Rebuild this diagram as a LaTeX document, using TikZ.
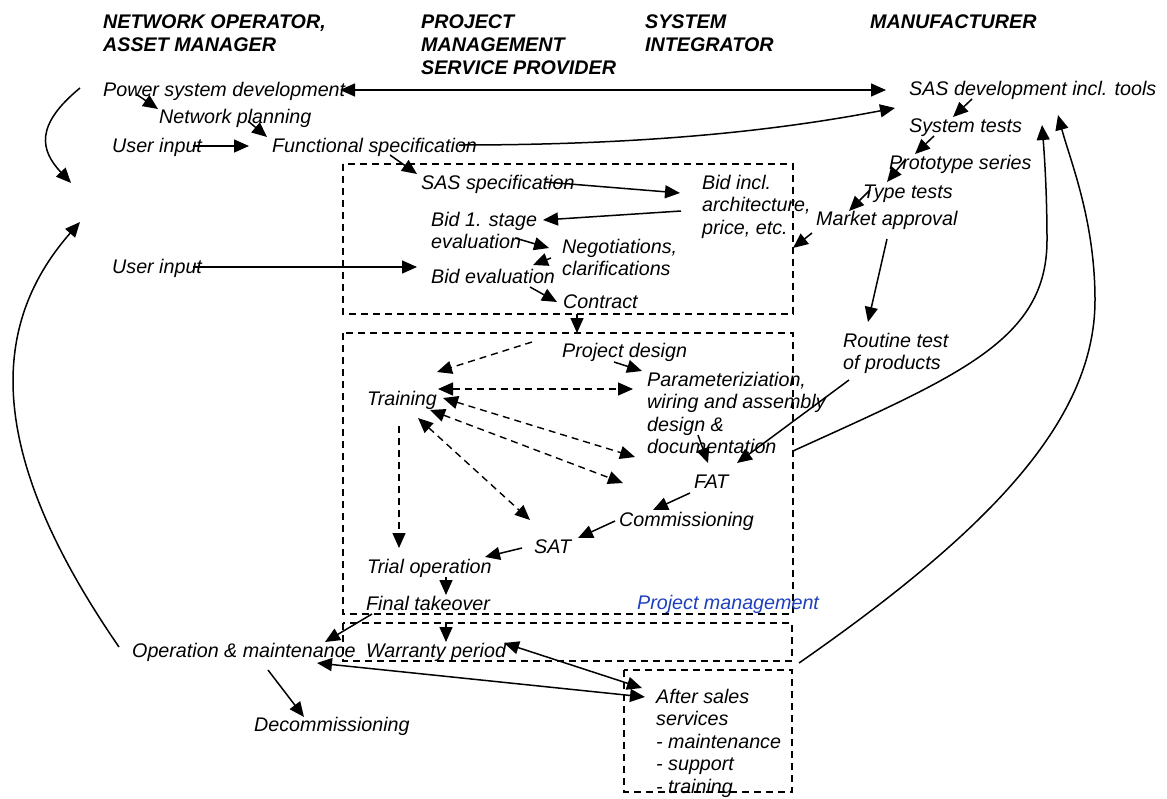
\documentclass[tikz,border=0pt]{standalone}
\usepackage{fontspec}
\setmainfont{Liberation Sans}
\usetikzlibrary{arrows.meta}
\definecolor{pmblue}{RGB}{30,64,190}
\newcommand\mlines[1]{\begin{tabular}[t]{@{}l@{}}#1\end{tabular}}

\begin{document}
\begin{tikzpicture}[x=1pt,y=-1pt,
  txt/.style={anchor=base west, inner sep=0pt, font=\fontsize{19.7}{22.5}\selectfont\itshape},
  hdr/.style={anchor=base west, inner sep=0pt, font=\fontsize{19.7}{23}\selectfont\bfseries\itshape},
  tip/.tip={Triangle[length=15pt,width=13pt]},
  arr/.style={line width=1.5pt, -tip},
  darr/.style={line width=1.5pt, tip-tip},
  dsh/.style={line width=1.4pt, dash pattern=on 7pt off 5pt},
  darrd/.style={line width=1.4pt, dash pattern=on 7pt off 5pt, -tip},
  ddarrd/.style={line width=1.4pt, dash pattern=on 7pt off 5pt, tip-tip},
]
\useasboundingbox (0,0) rectangle (1167,798);

% column headings
\node[hdr] (hNO)  at (103,28) {\mlines{NETWORK OPERATOR,\\ASSET MANAGER}};
\node[hdr] (hPM)  at (421,28) {\mlines{PROJECT\\MANAGEMENT\\SERVICE PROVIDER}};
\node[hdr] (hSI)  at (645,28) {\mlines{SYSTEM\\INTEGRATOR}};
\node[hdr] (hMF)  at (870,28) {MANUFACTURER};

% dashed phase boxes
\draw[dsh] (343,164) rectangle (793,314);
\draw[dsh] (343,333) rectangle (793,614);
\draw[dsh] (343,623) rectangle (792,661);
\draw[dsh] (624,670) rectangle (792,792);

% activities
\node[txt] (psd)   at (103,96)  {Power system development};
\node[txt] (np)    at (159,123) {Network planning};
\node[txt] (ui1)   at (112,152) {User input};
\node[txt] (fs)    at (272,152) {Functional specification};
\node[txt] (sass)  at (421,189) {SAS specification};
\node[txt] (bid1)  at (431,226) {\mlines{Bid 1. stage\\evaluation}};
\node[txt] (ui2)   at (112,273) {User input};
\node[txt] (bide)  at (431,283) {Bid evaluation};
\node[txt] (neg)   at (562,253) {\mlines{Negotiations,\\clarifications}};
\node[txt] (ctr)   at (563,308) {Contract};
\node[txt] (bidi)  at (702,189) {\mlines{Bid incl.\\architecture,\\price, etc.}};
\node[txt] (sasd)  at (909,95)  {SAS development incl. tools};
\node[txt] (syst)  at (909,132) {System tests};
\node[txt] (proto) at (889,169) {Prototype series};
\node[txt] (typ)   at (863,198) {Type tests};
\node[txt] (mkt)   at (816,225) {Market approval};
\node[txt] (rout)  at (843,347) {\mlines{Routine test\\of products}};
\node[txt] (pdes)  at (562,357) {Project design};
\node[txt] (par)   at (647,386) {\mlines{Parameteriziation,\\wiring and assembly\\design \&\\documentation}};
\node[txt] (trn)   at (367,405) {Training};
\node[txt] (fat)   at (694,488) {FAT};
\node[txt] (com)   at (619,526) {Commissioning};
\node[txt] (sat)   at (534,553) {SAT};
\node[txt] (trial) at (367,573) {Trial operation};
\node[txt] (fin)   at (366,610) {Final takeover};
\node[txt,text=pmblue] (pm) at (637,609) {Project management};
\node[txt] (war)   at (366,657) {Warranty period};
\node[txt] (om)    at (132,657) {Operation \& maintenance};
\node[txt] (dec)   at (254,731) {Decommissioning};
\node[txt] (aft)   at (656,703) {\mlines{After sales\\services\\- maintenance\\- support\\- training}};

% connector end points
\coordinate (psdR) at (340,90);   \coordinate (sasdL) at (886,90);
\coordinate (psdA) at (136,94);   \coordinate (npA)   at (158,109);
\coordinate (npB)  at (248,121);  \coordinate (fsA)   at (267,137);
\coordinate (ui1R) at (193,146);  \coordinate (fsL)   at (249,146);
\coordinate (fsR)  at (459,145);  \coordinate (sasdB) at (895,108);
\coordinate (fsB)  at (390,155);  \coordinate (sassA) at (417,174);
\coordinate (sassR) at (545,182); \coordinate (bidiL) at (680,193);
\coordinate (bidiB) at (681,211); \coordinate (bid1R) at (543,220);
\coordinate (evR)  at (515,238);  \coordinate (negL)  at (549,248);
\coordinate (negB) at (551,258);  \coordinate (bideT) at (533,265);
\coordinate (ui2R) at (193,267);  \coordinate (bideL) at (417,267);
\coordinate (bideB) at (530,287); \coordinate (ctrL)  at (557,302);
\coordinate (ctrB) at (577,314);  \coordinate (pbTop) at (577,333);

\coordinate (sasdC) at (972,99);  \coordinate (systT) at (953,117);
\coordinate (systB) at (934,136); \coordinate (protoT) at (915,154);
\coordinate (protoB) at (905,160);\coordinate (typT)  at (887,182);
\coordinate (typB) at (870,190);  \coordinate (mktT)  at (849,211);
\coordinate (mktL) at (812,233);  \coordinate (bbR)   at (793,248);
\coordinate (mktB) at (887,239);  \coordinate (routT) at (868,322);
\coordinate (routB) at (849,380); \coordinate (fatR)  at (737,463);
\coordinate (docB) at (698,435);  \coordinate (fatT)  at (708,463);
\coordinate (pdesB) at (614,362); \coordinate (parL)  at (642,371);
\coordinate (fatB) at (690,493);  \coordinate (comT)  at (653,510);
\coordinate (comL) at (615,521);  \coordinate (satR)  at (578,538);
\coordinate (satL) at (522,548);  \coordinate (trialR) at (485,557);
\coordinate (trialB) at (446,577);\coordinate (finT)  at (446,595);
\coordinate (wbTop) at (446,622); \coordinate (warT)  at (446,642);
\coordinate (finB) at (372,614);  \coordinate (omR)   at (325,642);
\coordinate (omR2) at (317,663);  \coordinate (aftL)  at (645,697);
\coordinate (warR) at (504,643);  \coordinate (aftL2) at (642,688);
\coordinate (omB)  at (268,670);  \coordinate (decT)  at (304,717);

\coordinate (psdL) at (80,88);    \coordinate (loopA) at (71,183);
\coordinate (omL)  at (119,647);  \coordinate (loopB) at (80,222);
\coordinate (pbR)  at (793,451);  \coordinate (systR) at (1042,125);
\coordinate (wbR)  at (799,663);  \coordinate (sasdR) at (1058,115);

\coordinate (pdesW) at (532,342); \coordinate (trnA)  at (437,372);
\coordinate (trnB) at (438,389);  \coordinate (parW)  at (633,389);
\coordinate (trnC) at (443,398);  \coordinate (docW)  at (635,457);
\coordinate (trnD) at (430,410);  \coordinate (fatW)  at (623,483);
\coordinate (trnE) at (418,418);  \coordinate (satW)  at (530,520);
\coordinate (trnF) at (399,426);  \coordinate (trialT) at (399,548);

% planning and tendering
\draw[darr] (psdR) -- (sasdL);
\draw[arr] (psdA) -- (npA);
\draw[arr] (npB) -- (fsA);
\draw[arr] (ui1R) -- (fsL);
\draw[arr] (fsR) .. controls (650,145) and (780,130) .. (sasdB);
\draw[arr] (fsB) -- (sassA);
\draw[arr] (sassR) -- (bidiL);
\draw[arr] (bidiB) -- (bid1R);
\draw[arr] (evR) -- (negL);
\draw[arr] (negB) -- (bideT);
\draw[arr] (ui2R) -- (bideL);
\draw[arr] (bideB) -- (ctrL);
\draw[arr] (ctrB) -- (pbTop);

% manufacturer chain
\draw[arr] (sasdC) -- (systT);
\draw[arr] (systB) -- (protoT);
\draw[arr] (protoB) -- (typT);
\draw[arr] (typB) -- (mktT);
\draw[arr] (mktL) -- (bbR);
\draw[arr] (mktB) -- (routT);
\draw[arr] (routB) -- (fatR);

% project execution
\draw[arr] (docB) -- (fatT);
\draw[arr] (pdesB) -- (parL);
\draw[arr] (fatB) -- (comT);
\draw[arr] (comL) -- (satR);
\draw[arr] (satL) -- (trialR);
\draw[arr] (trialB) -- (finT);
\draw[arr] (wbTop) -- (warT);
\draw[arr] (finB) -- (omR);
\draw[darr] (omR2) -- (aftL);
\draw[darr] (warR) -- (aftL2);
\draw[arr] (omB) -- (decT);

% feedback loops
\draw[arr] (psdL) .. controls (35,125) and (40,150) .. (loopA);
\draw[arr] (omL) .. controls (-10,460) and (-15,330) .. (loopB);
\draw[arr] (pbR) .. controls (960,375) and (1047,340) .. (1047,240)
               .. controls (1047,190) and (1044,150) .. (systR);
\draw[arr] (wbR) .. controls (990,530) and (1095,420) .. (1095,300)
               .. controls (1095,220) and (1070,160) .. (sasdR);

% training links
\draw[darrd] (pdesW) -- (trnA);
\draw[ddarrd] (trnB) -- (parW);
\draw[ddarrd] (trnC) -- (docW);
\draw[ddarrd] (trnD) -- (fatW);
\draw[ddarrd] (trnE) -- (satW);
\draw[darrd] (trnF) -- (trialT);
\end{tikzpicture}
\end{document}
